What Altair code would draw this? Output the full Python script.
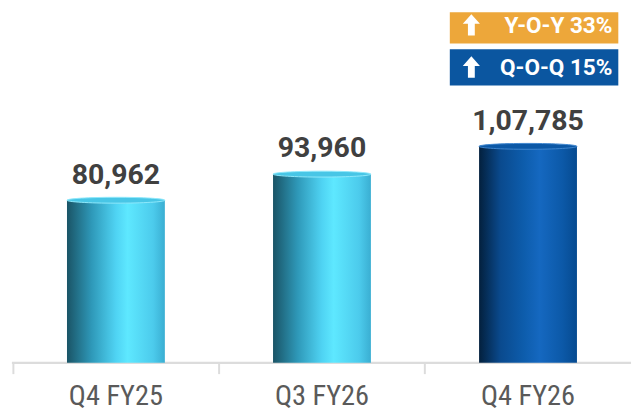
import altair as alt
import pandas as pd

categories = ["Q4 FY25", "Q3 FY26", "Q4 FY26"]
values = [80962, 93960, 107785]
value_labels = ["80,962", "93,960", "1,07,785"]
groups = ["prior", "prior", "current"]
badge_texts = ["Y-O-Y 33%", "Q-O-Q 15%"]
badge_colors = ["#EDA73A", "#0B56A0"]

df = pd.DataFrame({"cat": categories, "value": values, "label": value_labels, "group": groups})

W, H = 631, 358
YMAX = 174600
COND = "'Roboto Condensed', 'Liberation Sans Narrow', 'DejaVu Sans Condensed', Roboto"

cyan_grad = alt.Gradient(
    gradient="linear", x1=0, x2=1, y1=0, y2=0,
    stops=[
        alt.GradientStop(color="#1a5466", offset=0),
        alt.GradientStop(color="#2e98b8", offset=0.25),
        alt.GradientStop(color="#4fd3f3", offset=0.5),
        alt.GradientStop(color="#5ee8ff", offset=0.62),
        alt.GradientStop(color="#4ccbec", offset=0.88),
        alt.GradientStop(color="#3aaed2", offset=1),
    ],
)
blue_grad = alt.Gradient(
    gradient="linear", x1=0, x2=1, y1=0, y2=0,
    stops=[
        alt.GradientStop(color="#03203d", offset=0),
        alt.GradientStop(color="#0a4a8e", offset=0.22),
        alt.GradientStop(color="#0d5cab", offset=0.45),
        alt.GradientStop(color="#1568c0", offset=0.62),
        alt.GradientStop(color="#0c59a8", offset=0.85),
        alt.GradientStop(color="#064a90", offset=1),
    ],
)

xenc = alt.X(
    "cat:N", sort=categories, title=None,
    scale=alt.Scale(paddingInner=0, paddingOuter=0),
    axis=alt.Axis(
        labelAngle=0, labelFont=COND, labelFontSize=29, labelColor="#5a5a5a",
        labelPadding=9, domain=False, tickColor="#dcdcdc",
        tickWidth=2, tickSize=11, bandPosition=0, grid=False,
    ),
)
yenc = alt.Y("value:Q", scale=alt.Scale(domain=[0, YMAX]), axis=None)

base = alt.Chart(df)

domain_line = base.transform_filter(alt.datum.group == "current").mark_rule(
    color="#dcdcdc", strokeWidth=2.5
).encode(x=alt.value(-1), x2=alt.value(W), y=alt.value(H))

bars_prior = base.transform_filter(alt.datum.group == "prior").mark_bar(
    color=cyan_grad, width=alt.RelativeBandSize(0.475)
).encode(x=xenc, y=yenc)
bars_cur = base.transform_filter(alt.datum.group == "current").mark_bar(
    color=blue_grad, width=alt.RelativeBandSize(0.475)
).encode(x=xenc, y=yenc)

ellipse = "M -1 0 A 1 0.06 0 1 1 1 0 A 1 0.06 0 1 1 -1 0 Z"
cap_prior = base.transform_filter(alt.datum.group == "prior").mark_point(
    shape=ellipse, size=10000, filled=True, color="#48c6e6", opacity=1,
    stroke="#8fe8fb", strokeWidth=1,
).encode(x=xenc, y=yenc)
cap_cur = base.transform_filter(alt.datum.group == "current").mark_point(
    shape=ellipse, size=10000, filled=True, color="#0c58a6", opacity=1,
    stroke="#3f86cf", strokeWidth=1,
).encode(x=xenc, y=yenc)

labels = base.mark_text(
    font="Roboto", fontSize=29, fontWeight="bold", color="#404040",
    baseline="alphabetic", dy=-17,
).encode(x=xenc, y=yenc, text="label:N")

badges = pd.DataFrame({"text": badge_texts, "color": badge_colors, "row": [0, 1]})
bbase = alt.Chart(badges)
rect_y = {0: (0, 32), 1: (38, 75)}
mid_y = {0: 13, 1: 56}
badge_rects = alt.layer(*[
    bbase.transform_filter(alt.datum.row == r).mark_rect(color=badge_colors[r]).encode(
        x=alt.value(446), x2=alt.value(618), y=alt.value(rect_y[r][0]), y2=alt.value(rect_y[r][1])
    ) for r in (0, 1)
])
arrow = "M 0 -1 L 0.8 -0.1 L 0.32 -0.1 L 0.32 1 L -0.32 1 L -0.32 -0.1 L -0.8 -0.1 Z"
badge_arrows = alt.layer(*[
    bbase.transform_filter(alt.datum.row == r).mark_point(
        shape=arrow, size=480, filled=True, color="white", opacity=1
    ).encode(x=alt.value(468), y=alt.value(mid_y[r]))
    for r in (0, 1)
])
badge_text = alt.layer(*[
    bbase.transform_filter(alt.datum.row == r).mark_text(
        font="Roboto", fontSize=23, fontWeight="bold", color="white",
        align="right", baseline="middle", dy=1,
    ).encode(x=alt.value(612), y=alt.value(mid_y[r]), text="text:N")
    for r in (0, 1)
])

chart = alt.layer(
    domain_line, bars_prior, bars_cur, cap_prior, cap_cur, labels,
    badge_rects, badge_arrows, badge_text
).properties(
    width=W, height=H, padding={"left": 2, "top": 0, "right": 0, "bottom": 0}
).configure(background="white", view=alt.ViewConfig(stroke=None))

chart.save("out.html", embed_options={"renderer": "svg", "actions": False})
